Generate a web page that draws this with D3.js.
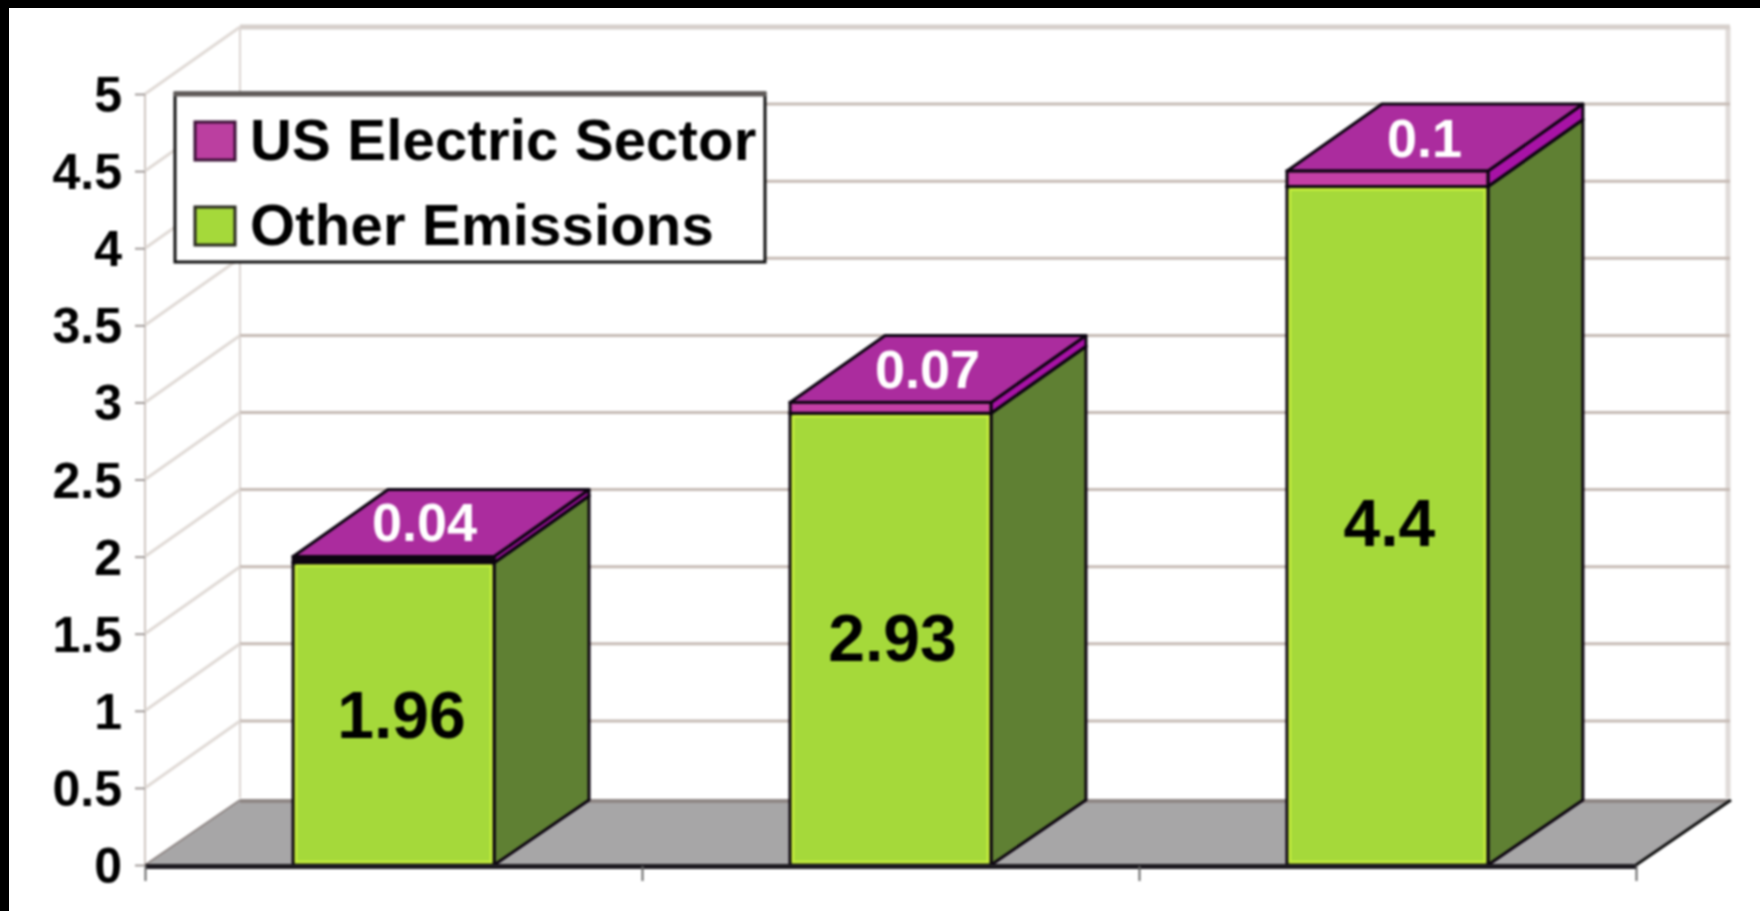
<!DOCTYPE html>
<html><head><meta charset="utf-8">
<script src="https://d3js.org/d3.v7.min.js"></script>
<style>
html,body{margin:0;padding:0;background:#fff;overflow:hidden}
svg{display:block;filter:blur(0.9px)}
text{font-family:"Liberation Sans",Arial,sans-serif;font-weight:bold}
.frame{position:fixed;left:0;top:0;background:#000}
</style></head><body><div id="c"></div>
<div class="frame" style="width:1760px;height:8px"></div>
<div class="frame" style="width:9px;height:911px"></div>
<script>
const categories = ["A","B","C"];
const seriesNames = ["Other Emissions","US Electric Sector"];
const otherEmissions = [1.96,2.93,4.4];
const usElectric = [0.04,0.07,0.1];
const yTicks = [0,0.5,1,1.5,2,2.5,3,3.5,4,4.5,5];

const W=1760,H=911;
const depthX=95,depthY=-67,floorDepthY=-65;
const xLeft=145,xRight=1636,yBase=865,yTop=94;

const svg=d3.select("#c").append("svg").attr("width",W).attr("height",H);
svg.append("rect").attr("width",W).attr("height",H).attr("fill","#fff");

const x=d3.scaleBand().domain(categories).range([xLeft,xRight]).paddingInner(0.5956).paddingOuter(0.298);
const y=d3.scaleLinear().domain([0,5]).range([yBase,yTop]);
const poly=d3.line();

// walls
const walls=svg.append("g");
walls.append("line").attr("x1",xLeft).attr("x2",xLeft).attr("y1",yTop).attr("y2",yBase).attr("stroke","#cfc7c2").attr("stroke-width",2);
walls.append("line").attr("x1",xLeft+depthX).attr("x2",xLeft+depthX).attr("y1",yTop+depthY).attr("y2",yBase+depthY).attr("stroke","#dcd6d3").attr("stroke-width",2);
walls.append("line").attr("x1",xRight+depthX-3).attr("x2",xRight+depthX-3).attr("y1",yTop+depthY).attr("y2",yBase+depthY).attr("stroke","#e0dbd8").attr("stroke-width",5);
yTicks.filter(d=>d>0).forEach(d=>{
  walls.append("line").attr("x1",xLeft+depthX).attr("x2",xRight+depthX-1)
    .attr("y1",y(d)+depthY).attr("y2",y(d)+depthY)
    .attr("stroke",d===5?"#d6cfcb":"#c6bbb5").attr("stroke-width",d===5?5:3);
  walls.append("line").attr("x1",xLeft).attr("x2",xLeft+depthX)
    .attr("y1",y(d)).attr("y2",y(d)+depthY).attr("stroke","#e0dad6").attr("stroke-width",3);
});

// floor
svg.append("path").attr("d",poly([[xLeft,yBase],[xLeft+depthX,yBase+floorDepthY],[xRight+depthX,yBase+floorDepthY],[xRight,yBase]])+"Z").attr("fill","#a7a6a7");
svg.append("line").attr("x1",xLeft+depthX).attr("x2",xRight+depthX-2).attr("y1",yBase+floorDepthY+1).attr("y2",yBase+floorDepthY+1).attr("stroke","#8f8785").attr("stroke-width",4);
svg.append("line").attr("x1",xLeft).attr("y1",yBase).attr("x2",xLeft+depthX).attr("y2",yBase+floorDepthY).attr("stroke","#8f8785").attr("stroke-width",2);
svg.append("line").attr("x1",xRight).attr("y1",yBase).attr("x2",xRight+depthX).attr("y2",yBase+floorDepthY).attr("stroke","#111").attr("stroke-width",3);

// axes
const yAxis=d3.axisLeft(y).tickValues(yTicks).tickFormat(d=>String(d)).tickSize(10).tickPadding(13);
const gy=svg.append("g").attr("transform",`translate(${xLeft},0)`).call(yAxis);
gy.select(".domain").remove();
gy.selectAll("line").attr("stroke","#a09a98").attr("stroke-width",2);
gy.selectAll("text").attr("fill","#000").attr("font-size",50).attr("font-weight","bold").attr("font-family",'"Liberation Sans",Arial,sans-serif').attr("dy","0.35em");

// bars
const rows=categories.map((c,i)=>({c,[seriesNames[0]]:otherEmissions[i],[seriesNames[1]]:usElectric[i]}));
const stack=d3.stack().keys(seriesNames)(rows);
const faces={
 [seriesNames[0]]:{front:"#a5d93a",side:"#5f8033",top:"#a5d93a"},
 [seriesNames[1]]:{front:"#c43fa6",side:"#a812a6",top:"#ab2c9e"}
};
const ink="#0c0410";
stack.forEach(layer=>{
  const col=faces[layer.key];
  layer.forEach(d=>{
    const x0=x(d.data.c),x1=x0+x.bandwidth(),y0=y(d[0]),y1=y(d[1]);
    const bottomDepth=d[0]===0?floorDepthY:depthY;
    const g=svg.append("g");
    g.append("path").attr("d",poly([[x1,y0],[x1+depthX,y0+bottomDepth],[x1+depthX,y1+depthY],[x1,y1]])+"Z")
      .attr("fill",col.side).attr("stroke",ink).attr("stroke-width",3).attr("stroke-linejoin","round");
    g.append("path").attr("d",poly([[x0,y1],[x0+depthX,y1+depthY],[x1+depthX,y1+depthY],[x1,y1]])+"Z")
      .attr("fill",col.top).attr("stroke",ink).attr("stroke-width",3).attr("stroke-linejoin","round");
    g.append("rect").attr("x",x0).attr("y",y1).attr("width",x.bandwidth()).attr("height",y0-y1)
      .attr("fill",y0-y1<8?ink:col.front).attr("stroke",ink).attr("stroke-width",3);
    if(layer.key===seriesNames[0]){
      g.append("path").attr("d",`M${x0+3},${y1+3}V${y0-3}H${x1-3}V${y1+3}H${x0+3}`)
        .attr("fill","none").attr("stroke","#c6ee3c").attr("stroke-width",2.5);
    }
  });
});

// x axis line
const xAxis=d3.axisBottom(d3.scalePoint().domain(d3.range(4)).range([xLeft,xRight])).tickFormat("").tickSize(15).tickSizeOuter(0);
const gx=svg.append("g").attr("transform",`translate(0,${yBase+1})`).call(xAxis);
gx.select(".domain").attr("stroke","#1d1a20").attr("stroke-width",5);
gx.selectAll("line").attr("stroke","#666").attr("stroke-width",2);

// value labels
const labels=svg.append("g").attr("text-anchor","middle");
categories.forEach((c,i)=>{
  const cx=x(c)+x.bandwidth()/2;
  labels.append("text").attr("x",cx+(i===0?8:2)).attr("y",y(otherEmissions[i]*0.51)+3).attr("dy","0.36em")
    .attr("font-size",66).attr("fill","#000").text(otherEmissions[i]);
  labels.append("text").attr("x",cx+(i===0?31:37)).attr("y",y(otherEmissions[i]+usElectric[i])+depthY/2-(i===0?2:0)).attr("dy","0.36em")
    .attr("font-size",54).attr("fill","#fff").text(usElectric[i]);
});

// legend
const leg=svg.append("g");
leg.append("rect").attr("x",175).attr("y",93).attr("width",590).attr("height",169).attr("fill","#fff").attr("stroke","#111").attr("stroke-width",3);
leg.append("line").attr("x1",174).attr("x2",766).attr("y1",94).attr("y2",94).attr("stroke","#5f5a58").attr("stroke-width",5);
const legendRows=[
 {name:seriesNames[1],sy:122,by:160,fill:"#bb3fa0",edge:"#3d1238"},
 {name:seriesNames[0],sy:207,by:245,fill:"#a5d93a",edge:"#2a2a20"}];
legendRows.forEach(r=>{
  leg.append("rect").attr("x",195).attr("y",r.sy).attr("width",40).attr("height",38).attr("fill",r.fill).attr("stroke",r.edge).attr("stroke-width",3);
  leg.append("text").attr("x",250).attr("y",r.by).attr("font-size",58).attr("letter-spacing",0.2).attr("fill","#000").text(r.name);
});
</script></body></html>
